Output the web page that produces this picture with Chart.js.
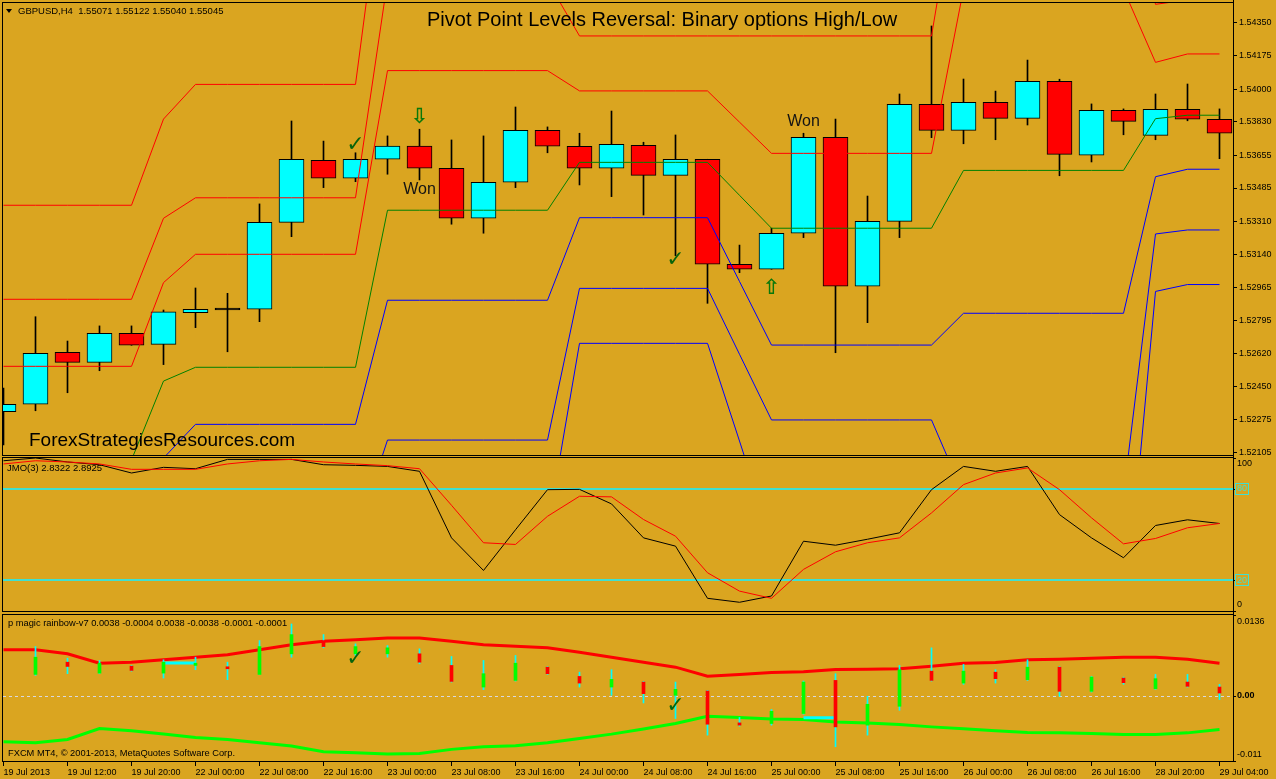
<!DOCTYPE html>
<html lang="en">
<head>
<meta charset="utf-8">
<title>GBPUSD H4 - Pivot Point Levels Reversal</title>
<script src="https://cdn.jsdelivr.net/npm/chart.js@4.4.0/dist/chart.umd.min.js"></script>
<style>
body{margin:0;background:#daa520;}
#wrap{position:relative;width:1276px;height:779px;overflow:hidden;background:#daa520;font-family:"Liberation Sans",Arial,sans-serif;}
canvas{position:absolute;left:0;}
.txt{position:absolute;white-space:nowrap;color:#000;}
.tri{position:absolute;left:6px;top:9px;width:0;height:0;border-left:3.5px solid transparent;border-right:3.5px solid transparent;border-top:4px solid #000;}
</style>
</head>
<body>
<div id="wrap">
  <canvas id="mainChart" width="1276" height="456" style="top:0px"></canvas>
  <canvas id="jmoChart" width="1276" height="156" style="top:456px"></canvas>
  <canvas id="rainbowChart" width="1276" height="167" style="top:612px"></canvas>

  <div class="tri"></div>
  <div class="txt" style="left:18px;top:6px;font-size:9.5px;line-height:9.5px">GBPUSD,H4&nbsp;&nbsp;1.55071 1.55122 1.55040 1.55045</div>
  <div class="txt" style="left:427px;top:9px;font-size:20px;line-height:20px">Pivot Point Levels Reversal: Binary options High/Low</div>
  <div class="txt" style="left:29px;top:429.6px;font-size:19px;line-height:19px">ForexStrategiesResources.com</div>
  <div class="txt" style="left:7px;top:462.5px;font-size:9.5px;line-height:9.5px">JMO(3) 2.8322 2.8925</div>
  <div class="txt" style="left:8px;top:618.8px;font-size:9.3px;line-height:9.3px">p magic rainbow-v7 0.0038 -0.0004 0.0038 -0.0038 -0.0001 -0.0001</div>
  <div class="txt" style="left:8px;top:749px;font-size:9.3px;line-height:9.3px">FXCM MT4, © 2001-2013, MetaQuotes Software Corp.</div>
</div>

<script>
// ---- data (one entry per H4 bar) ----
const timeLabels = ['19 Jul 2013','19 Jul 12:00','19 Jul 20:00','22 Jul 00:00','22 Jul 08:00','22 Jul 16:00',
  '23 Jul 00:00','23 Jul 08:00','23 Jul 16:00','24 Jul 00:00','24 Jul 08:00','24 Jul 16:00','25 Jul 00:00',
  '25 Jul 08:00','25 Jul 16:00','26 Jul 00:00','26 Jul 08:00','26 Jul 16:00','28 Jul 20:00','29 Jul 04:00'];

const priceTicks = [1.54350,1.54175,1.54000,1.53830,1.53655,1.53485,1.53310,1.53140,1.52965,1.52795,1.52620,1.52450,1.52275,1.52105];

const open  = [1.52317,1.52356,1.52627,1.52575,1.52726,1.52669,1.52834,1.52848,1.52852,1.53306,1.53630,1.53536,1.53635,1.53704,1.53588,1.53327,1.53515,1.53786,1.53703,1.53588,1.53708,1.53551,1.53635,1.53087,1.53061,1.53249,1.53750,1.52973,1.53311,1.53922,1.53786,1.53932,1.53849,1.54042,1.53656,1.53891,1.53760,1.53896,1.53844];
const high  = [1.52441,1.52813,1.52686,1.52765,1.52765,1.52848,1.52963,1.52935,1.53402,1.53835,1.53730,1.53669,1.53757,1.53792,1.53736,1.53757,1.53908,1.53804,1.53771,1.53887,1.53724,1.53762,1.53635,1.53187,1.53275,1.53771,1.53845,1.53443,1.53976,1.54331,1.54054,1.53991,1.54153,1.54053,1.53924,1.53898,1.53976,1.54028,1.53898];
const low   = [1.52143,1.52322,1.52416,1.52531,1.52664,1.52563,1.52756,1.52630,1.52787,1.53231,1.53487,1.53518,1.53557,1.53527,1.53296,1.53249,1.53487,1.53669,1.53501,1.53440,1.53344,1.53132,1.52883,1.53043,1.53061,1.53226,1.52625,1.52782,1.53226,1.53748,1.53716,1.53737,1.53814,1.53549,1.53621,1.53763,1.53737,1.53836,1.53638];
const close = [1.52356,1.52622,1.52575,1.52726,1.52664,1.52839,1.52852,1.52848,1.53306,1.53635,1.53536,1.53635,1.53704,1.53588,1.53327,1.53515,1.53786,1.53704,1.53588,1.53713,1.53551,1.53635,1.53087,1.53061,1.53249,1.53750,1.52973,1.53311,1.53922,1.53786,1.53932,1.53849,1.54042,1.53661,1.53891,1.53833,1.53896,1.53844,1.53771];

// daily pivot levels
const r3 = [1.53395,1.53395,1.53395,1.53395,1.53395,1.53845,1.54026,1.54026,1.54026,1.54026,1.54026,1.54026,1.55297,1.55297,1.55297,1.55297,1.55297,1.55297,1.54654,1.54654,1.54654,1.54654,1.54654,1.54660,1.54667,1.54667,1.54667,1.54667,1.54667,1.54667,1.56216,1.56216,1.56216,1.56216,1.56216,1.56216,1.54738,1.54787,1.54787];
const r2 = [1.52904,1.52904,1.52904,1.52904,1.52904,1.53327,1.53434,1.53434,1.53434,1.53434,1.53434,1.53434,1.54567,1.54567,1.54567,1.54567,1.54567,1.54567,1.54279,1.54279,1.54279,1.54279,1.54279,1.54279,1.54279,1.54279,1.54279,1.54279,1.54279,1.54279,1.55271,1.55271,1.55271,1.55271,1.55271,1.55271,1.54444,1.54467,1.54467];
const r1 = [1.52554,1.52554,1.52554,1.52554,1.52554,1.52991,1.53139,1.53139,1.53139,1.53139,1.53139,1.53139,1.54098,1.54098,1.54098,1.54098,1.54098,1.54098,1.53992,1.53992,1.53992,1.53992,1.53992,1.53829,1.53666,1.53666,1.53666,1.53666,1.53666,1.53666,1.54523,1.54523,1.54523,1.54523,1.54523,1.54523,1.54141,1.54185,1.54185];
const pivot = [1.52065,1.52065,1.52065,1.52065,1.52065,1.52477,1.52549,1.52549,1.52549,1.52549,1.52549,1.52549,1.53369,1.53369,1.53369,1.53369,1.53369,1.53369,1.53619,1.53619,1.53619,1.53619,1.53619,1.53447,1.53275,1.53275,1.53275,1.53275,1.53275,1.53275,1.53577,1.53577,1.53577,1.53577,1.53577,1.53577,1.53847,1.53865,1.53865];
const s1 = [1.51715,1.51715,1.51715,1.51715,1.51715,1.52075,1.52251,1.52251,1.52251,1.52251,1.52251,1.52251,1.52899,1.52899,1.52899,1.52899,1.52899,1.52899,1.53330,1.53330,1.53330,1.53330,1.53330,1.52997,1.52665,1.52665,1.52665,1.52665,1.52665,1.52665,1.52831,1.52831,1.52831,1.52831,1.52831,1.52831,1.53544,1.53583,1.53583];
const s2 = [1.51226,1.51226,1.51226,1.51226,1.51226,1.51628,1.51663,1.51663,1.51663,1.51663,1.51663,1.51663,1.52169,1.52169,1.52169,1.52169,1.52169,1.52169,1.52961,1.52961,1.52961,1.52961,1.52961,1.52617,1.52274,1.52274,1.52274,1.52274,1.52274,1.52274,1.51886,1.51886,1.51886,1.51886,1.51886,1.51886,1.53245,1.53266,1.53266];
const s3 = [1.50876,1.50876,1.50876,1.50876,1.50876,1.51292,1.51364,1.51364,1.51364,1.51364,1.51364,1.51364,1.51700,1.51700,1.51700,1.51700,1.51700,1.51700,1.52674,1.52674,1.52674,1.52674,1.52674,1.52164,1.51647,1.51647,1.51647,1.51647,1.51647,1.51647,1.51141,1.51141,1.51141,1.51141,1.51141,1.51141,1.52945,1.52981,1.52981];

// signals drawn on the price panel: bar index + price
const checkIdx = [11, 21];
const checkPrice = [1.53706, 1.53108];
const arrowDownIdx = [13];
const arrowDownPrice = [1.53853];
const arrowUpIdx = [24];
const arrowUpPrice = [1.52960];
const wonIdx = [13, 25];
const wonPrice = [1.53476, 1.53833];

// JMO(3) oscillator
const jmoFast = [98.2,100,97.4,95.6,90.2,93.9,93.0,99.1,99.1,99.1,95.6,95.2,94.5,91.3,47.8,26.5,53.1,79.3,79.5,70.0,47.8,42.4,8.3,5.7,9.8,45.6,43.0,46.9,51.1,79.3,94.5,91.3,94.5,63.0,47.8,34.8,55.9,59.6,57.2];
const jmoSlow = [96.1,98.2,97.4,96.1,92.6,92.6,92.6,96.1,98.2,99.1,97.4,96.1,95.0,93.0,69.1,44.6,43.5,61.9,75.0,74.6,59.8,48.9,25.0,13.0,8.3,27.2,38.7,44.6,47.8,64.1,82.6,90.2,93.5,79.3,60.9,43.9,47.4,54.4,57.2];
const jmoLevels = [20, 80];
const jmoAxisValues = [100, 80, 20, 0];

// p magic rainbow-v7
const rbUpper = [0.00773,0.00773,0.00706,0.00548,0.00565,0.00605,0.00649,0.00689,0.00773,0.00857,0.00917,0.00941,0.00974,0.00974,0.00917,0.00857,0.00833,0.00807,0.00733,0.00649,0.00565,0.00481,0.00330,0.00359,0.00392,0.00404,0.00443,0.00448,0.00454,0.00498,0.00548,0.00560,0.00605,0.00616,0.00632,0.00649,0.00649,0.00616,0.00548];
const rbLower = [-0.00776,-0.00793,-0.00737,-0.00552,-0.00592,-0.00647,-0.00703,-0.00737,-0.00793,-0.00849,-0.00944,-0.00961,-0.00983,-0.00972,-0.00904,-0.00860,-0.00844,-0.00793,-0.00720,-0.00647,-0.00560,-0.00468,-0.00345,-0.00367,-0.00391,-0.00401,-0.00441,-0.00458,-0.00485,-0.00525,-0.00558,-0.00592,-0.00619,-0.00626,-0.00636,-0.00652,-0.00652,-0.00626,-0.00569];
const rbCyanUp = [null,null,null,null,null,0.00550,0.00550,null,null,null,null,null,null,null,null,null,null,null,null,null,null,null,null,null,null,null,null,null,null,null,null,null,null,null,null,null,null,null,null];
const rbCyanDn = [null,null,null,null,null,null,null,null,null,null,null,null,null,null,null,null,null,null,null,null,null,null,null,null,null,-0.00372,-0.00372,null,null,null,null,null,null,null,null,null,null,null,null];
const histBodyHi = [null,0.00649,0.00565,0.00548,0.00498,0.00565,0.00548,0.00481,0.00828,0.01030,0.00929,0.00828,0.00807,0.00706,0.00510,0.00371,0.00548,0.00481,0.00325,0.00275,0.00230,0.00107,0.00079,-0.00458,-0.00262,0.00230,0.00258,-0.00144,0.00438,0.00414,0.00414,0.00397,0.00481,0.00481,0.00314,0.00297,0.00287,0.00230,0.00146];
const histBodyLo = [null,0.00359,0.00493,0.00381,0.00426,0.00381,0.00510,0.00454,0.00359,0.00706,0.00828,0.00706,0.00706,0.00565,0.00241,0.00146,0.00258,0.00371,0.00213,0.00146,0.00035,0.00007,-0.00480,-0.00496,-0.00468,-0.00300,-0.00525,-0.00496,-0.00178,0.00258,0.00213,0.00287,0.00270,0.00074,0.00074,0.00220,0.00119,0.00158,0.00045];
const histWickHi = [null,0.00828,0.00632,0.00594,0.00510,0.00605,0.00649,0.00565,0.00929,0.01209,0.01030,0.00874,0.00845,0.00790,0.00661,0.00594,0.00678,0.00493,0.00397,0.00438,0.00241,0.00230,0.00091,-0.00367,-0.00233,0.00247,0.00371,-0.00010,0.00510,0.00807,0.00527,0.00438,0.00605,0.00493,0.00325,0.00314,0.00359,0.00359,0.00191];
const histWickLo = [null,0.00342,0.00371,0.00371,0.00414,0.00297,0.00438,0.00270,0.00359,0.00649,0.00807,0.00678,0.00649,0.00538,0.00230,0.00102,0.00247,0.00359,0.00146,0.00007,-0.00122,-0.00384,-0.00664,-0.00513,-0.00496,-0.00312,-0.00860,-0.00664,-0.00245,0.00247,0.00191,0.00213,0.00258,-0.00010,0.00062,0.00191,0.00107,0.00146,-0.00065];
const histDir = [null,'up','dn','up','dn','up','up','dn','up','up','dn','up','up','dn','dn','up','up','dn','dn','up','dn','up','dn','dn','up','up','dn','up','up','dn','up','dn','up','dn','up','dn','up','dn','dn'];
const rbLevels = [0];
const rbAxisValues = [0.0136, 0, -0.011];
const rbAxisText = ['0.0136', '0.00', '-0.011'];
const rbCheckIdx = [11, 21];
const rbCheckValue = [0.00610, -0.00178];

// ---- drawing ----
const FONT = '"Liberation Sans", Arial, sans-serif';
const X_MIN = -0.015625, X_MAX = 38.421875; // 32 px per bar
const CYAN_LEVEL = '#40e0d0';

const xy = arr => arr.map((v, i) => ({x: i, y: v}));

function xAxis(show) {
  return {
    type: 'linear', min: X_MIN, max: X_MAX, offset: false, display: show,
    grid: {display: true, drawOnChartArea: false, drawTicks: true, tickLength: 5, color: '#000', offset: false},
    border: {display: false},
    afterBuildTicks: s => { s.ticks = timeLabels.map((t, k) => ({value: 2 * k})); },
    afterFit: s => { s.height = show ? 18 : 0; s.paddingLeft = 0; s.paddingRight = 0; },
    ticks: {autoSkip: false, maxRotation: 0, minRotation: 0, align: 'start', padding: 1, color: '#000',
      font: {family: FONT, size: 9}, callback: (v, k) => timeLabels[k]}
  };
}

function lineDs(label, arr, color, width, order) {
  return {type: 'line', label: label, data: xy(arr), borderColor: color, borderWidth: width,
    pointRadius: 0, tension: 0, fill: false, order: order};
}

const common = {
  responsive: false, animation: false, events: [],
  plugins: {legend: {display: false}, tooltip: {enabled: false}}
};

// black frame round each panel + the right hand axis line
const framePlugin = {
  id: 'frame',
  afterDraw(chart) {
    const {ctx, chartArea: a} = chart;
    ctx.save();
    ctx.strokeStyle = '#000';
    ctx.lineWidth = 1;
    ctx.strokeRect(a.left - 0.5, a.top - 0.5, a.right - a.left + 1, a.bottom - a.top + 1);
    ctx.beginPath();
    ctx.moveTo(a.right + 0.5, 0);
    ctx.lineTo(a.right + 0.5, a.bottom);
    ctx.stroke();
    ctx.restore();
  }
};

function marksPlugin(id, marks) {
  return {
    id: id,
    afterDatasetsDraw(chart) {
      const {ctx, scales: {x, y}} = chart;
      ctx.save();
      ctx.textAlign = 'center';
      ctx.textBaseline = 'middle';
      marks.forEach(m => {
        ctx.font = m.font;
        ctx.fillStyle = m.color;
        m.idx.forEach((i, k) => ctx.fillText(m.text, x.getPixelForValue(i), y.getPixelForValue(m.val[k])));
      });
      ctx.restore();
    }
  };
}

const bodyColors = close.map((c, i) => c > open[i] ? '#00ffff' : (c < open[i] ? '#ff0000' : '#000000'));

new Chart(document.getElementById('mainChart'), {
  type: 'bar',
  data: {datasets: [
    lineDs('R3', r3, '#ff0000', 1, 1),
    lineDs('R2', r2, '#ff0000', 1, 1),
    lineDs('R1', r1, '#ff0000', 1, 1),
    lineDs('Pivot', pivot, '#008000', 1, 1),
    lineDs('S1', s1, '#0000ff', 1, 1),
    lineDs('S2', s2, '#0000ff', 1, 1),
    lineDs('S3', s3, '#0000ff', 1, 1),
    {type: 'bar', label: 'Body', data: open.map((o, i) => ({x: i, y: [o, close[i]]})),
      backgroundColor: bodyColors, borderColor: '#000', borderWidth: 1, borderSkipped: false,
      barThickness: 25, minBarLength: 2, grouped: false, order: 2},
    {type: 'bar', label: 'Wick', data: low.map((l, i) => ({x: i, y: [l, high[i]]})),
      backgroundColor: '#000', barThickness: 1, grouped: false, order: 3}
  ]},
  options: Object.assign({}, common, {
    layout: {padding: {left: 3, top: 3, right: 0, bottom: 1}},
    scales: {
      x: xAxis(false),
      y: {
        position: 'right', min: 1.52091, max: 1.54451,
        afterBuildTicks: s => { s.ticks = priceTicks.map(v => ({value: v})); },
        afterFit: s => { s.width = 43; s.paddingTop = 0; s.paddingBottom = 0; },
        grid: {drawOnChartArea: false, drawTicks: true, tickLength: 4, color: '#000'},
        border: {display: false},
        ticks: {autoSkip: false, padding: 2, crossAlign: 'near', color: '#000',
          font: {family: FONT, size: 9}, callback: v => v.toFixed(5)}
      }
    }
  }),
  plugins: [framePlugin, marksPlugin('mainMarks', [
    {text: '\u2713', font: 'bold 22px "DejaVu Sans"', color: '#0a640a', idx: checkIdx, val: checkPrice},
    {text: '\u21e9', font: 'bold 21px "DejaVu Sans"', color: '#0a780a', idx: arrowDownIdx, val: arrowDownPrice},
    {text: '\u21e7', font: 'bold 21px "DejaVu Sans"', color: '#0a780a', idx: arrowUpIdx, val: arrowUpPrice},
    {text: 'Won', font: '16px ' + FONT, color: '#141414', idx: wonIdx, val: wonPrice}
  ])]
});

// JMO panel: level lines + right side labels
const jmoPlugin = {
  id: 'jmoAxis',
  beforeDatasetsDraw(chart) {
    const {ctx, chartArea: a, scales: {y}} = chart;
    ctx.save();
    ctx.strokeStyle = CYAN_LEVEL;
    ctx.lineWidth = 2;
    jmoLevels.forEach(v => {
      const py = Math.round(y.getPixelForValue(v));
      ctx.beginPath();
      ctx.moveTo(a.left, py);
      ctx.lineTo(a.right, py);
      ctx.stroke();
    });
    ctx.restore();
  },
  afterDraw(chart) {
    const {ctx, chartArea: a, scales: {y}} = chart;
    ctx.save();
    ctx.font = '9px ' + FONT;
    ctx.textBaseline = 'middle';
    jmoAxisValues.forEach(v => {
      const py = y.getPixelForValue(v);
      const ty = Math.min(Math.max(py, a.top + 6), a.bottom - 6);
      ctx.strokeStyle = '#000';
      ctx.lineWidth = 1;
      ctx.beginPath();
      ctx.moveTo(a.right, Math.round(py) + 0.5);
      ctx.lineTo(a.right + 3, Math.round(py) + 0.5);
      ctx.stroke();
      if (jmoLevels.includes(v)) {
        ctx.strokeStyle = CYAN_LEVEL;
        ctx.strokeRect(a.right + 2.5, Math.round(ty) - 5.5, 13, 11);
        ctx.fillStyle = CYAN_LEVEL;
      } else {
        ctx.fillStyle = '#000';
      }
      ctx.fillText(String(v), a.right + 4, ty);
    });
    ctx.restore();
  }
};

new Chart(document.getElementById('jmoChart'), {
  type: 'line',
  data: {datasets: [
    lineDs('JMO', jmoFast, '#000000', 1, 2),
    lineDs('Signal', jmoSlow, '#ff0000', 1, 1)
  ]},
  options: Object.assign({}, common, {
    layout: {padding: {left: 3, top: 2, right: 43, bottom: 1}},
    scales: {
      x: xAxis(false),
      y: {display: false, min: 0, max: 100}
    }
  }),
  plugins: [jmoPlugin, framePlugin]
});

// rainbow panel: zero line + right side labels
const rbPlugin = {
  id: 'rbAxis',
  beforeDatasetsDraw(chart) {
    const {ctx, chartArea: a, scales: {y}} = chart;
    ctx.save();
    ctx.strokeStyle = '#d8d8e0';
    ctx.lineWidth = 1;
    ctx.setLineDash([3, 3]);
    rbLevels.forEach(v => {
      const py = Math.round(y.getPixelForValue(v)) + 0.5;
      ctx.beginPath();
      ctx.moveTo(a.left, py);
      ctx.lineTo(a.right, py);
      ctx.stroke();
    });
    ctx.restore();
  },
  afterDraw(chart) {
    const {ctx, chartArea: a, scales: {y}} = chart;
    ctx.save();
    ctx.textBaseline = 'middle';
    ctx.fillStyle = '#000';
    rbAxisValues.forEach((v, k) => {
      const py = y.getPixelForValue(v);
      const ty = Math.min(Math.max(py, a.top + 7), a.bottom - 6);
      ctx.strokeStyle = '#000';
      ctx.beginPath();
      ctx.moveTo(a.right, Math.round(py) + 0.5);
      ctx.lineTo(a.right + 3, Math.round(py) + 0.5);
      ctx.stroke();
      ctx.font = (v === 0 ? 'bold ' : '') + '9px ' + FONT;
      ctx.fillText(rbAxisText[k], a.right + 4, ty);
    });
    ctx.restore();
  }
};

const histIdx = histDir.map((d, i) => i).filter(i => histDir[i] !== null);

new Chart(document.getElementById('rainbowChart'), {
  type: 'bar',
  data: {datasets: [
    lineDs('Upper', rbUpper, '#ff0000', 3, 4),
    lineDs('Lower', rbLower, '#00ff00', 3, 4),
    lineDs('CyanUp', rbCyanUp, '#00ffff', 3, 3),
    lineDs('CyanDn', rbCyanDn, '#00ffff', 3, 3),
    {type: 'bar', label: 'Range', data: histIdx.map(i => ({x: i, y: [histWickLo[i], histWickHi[i]]})),
      backgroundColor: '#00ffff', barThickness: 1, grouped: false, order: 2},
    {type: 'bar', label: 'Body', data: histIdx.map(i => ({x: i, y: [histBodyLo[i], histBodyHi[i]]})),
      backgroundColor: ctx => histDir[ctx.raw.x] === 'up' ? '#00ff00' : '#ff0000',
      barThickness: 3, minBarLength: 2, grouped: false, order: 1}
  ]},
  options: Object.assign({}, common, {
    layout: {padding: {left: 3, top: 3, right: 43, bottom: 0}},
    scales: {
      x: xAxis(true),
      y: {display: false, min: -0.011, max: 0.0136}
    }
  }),
  plugins: [rbPlugin, framePlugin, marksPlugin('rbMarks', [
    {text: '\u2713', font: 'bold 22px "DejaVu Sans"', color: '#0a640a', idx: rbCheckIdx, val: rbCheckValue}
  ])]
});
</script>
</body>
</html>
